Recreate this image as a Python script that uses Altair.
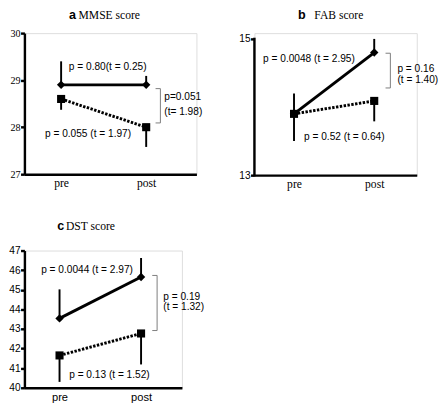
import altair as alt
import pandas as pd

categories = ["pre", "post"]

# Panel a: MMSE score
mmse_solid = [28.9, 28.9]
mmse_solid_err = [29.4, 29.09]
mmse_dotted = [28.6, 28.0]
mmse_dotted_err = [28.37, 27.58]
mmse_bracket = [28.82, 28.09]
mmse_ticks = [27, 28, 29, 30]

# Panel b: FAB score
fab_solid = [13.9, 14.8]
fab_solid_err = [14.2, 15.0]
fab_dotted = [13.9, 14.09]
fab_dotted_err = [13.5, 13.79]
fab_bracket = [14.79, 14.28]
fab_ticks = [13, 14, 15]

# Panel c: DST score
dst_solid = [43.54, 45.65]
dst_solid_err = [45.02, 46.62]
dst_dotted = [41.65, 42.77]
dst_dotted_err = [40.3, 41.19]
dst_bracket = [45.73, 42.92]
dst_ticks = [40, 41, 42, 43, 44, 45, 46, 47]

SANS = "Liberation Sans"
SERIF = "Liberation Serif"


def panel(letter, name, solid, solid_err, dotted, dotted_err, bracket, ticks,
          texts, width, height, xpad, xalign, yfont, xfont, xlfs,
          br_off, title_xy, ytop=None):
    df = pd.DataFrame({
        "cond": categories * 2,
        "series": ["solid"] * 2 + ["dotted"] * 2,
        "value": solid + dotted,
        "value2": solid_err + dotted_err,
    })
    top = ticks[-1] if ytop is None else ytop
    xenc = alt.X("cond:N", sort=categories,
                 scale=alt.Scale(type="point", domain=categories,
                                 padding=xpad, align=xalign),
                 axis=alt.Axis(title=None, ticks=False, labelAngle=0,
                               labelFont=xfont, labelFontSize=xlfs,
                               labelColor="black", labelPadding=4,
                               domainColor="black", domainWidth=2.5))
    yenc = alt.Y("value:Q",
                 scale=alt.Scale(domain=[ticks[0], top], nice=False, zero=False),
                 axis=alt.Axis(title=None, values=ticks, format="d", grid=False,
                               tickSize=4, tickWidth=2.5, tickColor="black",
                               labelFont=yfont, labelFontSize=10.5,
                               labelColor="black", labelPadding=0.5,
                               domain=ytop is None,
                               domainColor="black", domainWidth=2.5))
    base = alt.Chart(df)
    err = base.mark_rule(color="black", strokeWidth=2).encode(
        x=xenc, y=yenc, y2="value2:Q")
    line_s = base.transform_filter(alt.datum.series == "solid").mark_line(
        color="black", strokeWidth=3).encode(x=xenc, y=yenc)
    line_d = base.transform_filter(alt.datum.series == "dotted").mark_line(
        color="black", strokeWidth=3, strokeDash=[2.5, 1.5]).encode(x=xenc, y=yenc)
    pt_s = base.transform_filter(alt.datum.series == "solid").mark_point(
        shape="diamond", filled=True, color="black", size=75, opacity=1).encode(x=xenc, y=yenc)
    pt_d = base.transform_filter(alt.datum.series == "dotted").mark_point(
        shape="square", filled=True, color="black", size=70, opacity=1).encode(x=xenc, y=yenc)

    bdf = pd.DataFrame({"cond": ["post"], "value": [bracket[0]], "value2": [bracket[1]]})
    bcol = "#7a7a7a"
    br_v = alt.Chart(bdf).mark_rule(color=bcol, strokeWidth=1, xOffset=br_off).encode(
        x=xenc, y=yenc, y2="value2:Q")
    cdf = pd.DataFrame({"cond": ["post", "post"], "value": bracket})
    br_c = alt.Chart(cdf).mark_rule(color=bcol, strokeWidth=1,
                                    xOffset=br_off - 5, x2Offset=br_off).encode(
        x=xenc, x2="cond:N", y=yenc)

    layers = [err, line_d, line_s, pt_d, pt_s, br_v, br_c]
    if ytop is not None:
        ddf = pd.DataFrame({"value": [ticks[0]], "value2": [ticks[-1]]})
        layers.append(alt.Chart(ddf).mark_rule(color="black", strokeWidth=2.5,
                                               strokeCap="square").encode(
            x=alt.value(0), y=yenc, y2="value2:Q"))
    for cond, val, dx, label in texts:
        tdf = pd.DataFrame({"cond": [cond], "value": [val], "label": [label]})
        layers.append(alt.Chart(tdf).mark_text(
            align="left", baseline="middle", dx=dx, font=SANS, fontSize=10.5,
            color="black").encode(x=xenc, y=yenc, text="label:N"))

    one = pd.DataFrame({"k": [0]})
    tx, ty, tx2 = title_xy
    layers.append(alt.Chart(one).mark_text(
        text=letter, align="left", baseline="middle", font=SANS, fontSize=13,
        fontWeight="bold", color="black").encode(x=alt.value(tx), y=alt.value(ty)))
    layers.append(alt.Chart(one).mark_text(
        text=name, align="left", baseline="middle", font=SERIF, fontSize=12,
        color="black").encode(x=alt.value(tx2), y=alt.value(ty)))

    return alt.layer(*layers).properties(width=width, height=height)


pa = panel("a", "MMSE score", mmse_solid, mmse_solid_err, mmse_dotted, mmse_dotted_err,
           mmse_bracket, mmse_ticks,
           [("pre", 29.28, 8, "p = 0.80(t = 0.25)"),
            ("post", 28.63, 18.7, "p=0.051"),
            ("post", 28.32, 18.7, "(t= 1.98)"),
            ("pre", 27.85, -16.7, "p = 0.055 (t = 1.97)")],
           178, 146, 0.511, 0.422, SERIF, SERIF, 12, 14.7, (46, -19, 56))

pb = panel("b", "FAB score", fab_solid, fab_solid_err, fab_dotted, fab_dotted_err,
           fab_bracket, fab_ticks,
           [("pre", 14.7, -32, "p = 0.0048 (t = 2.95)"),
            ("post", 14.55, 24, "p = 0.16"),
            ("post", 14.39, 24, "(t = 1.40)"),
            ("pre", 13.56, 10.4, "p = 0.52 (t = 0.64)")],
           168, 147, 0.512, 0.482, SANS, SERIF, 12, 16.7, (45, -19, 62),
           ytop=15.085)

pc = panel("c", "DST score", dst_solid, dst_solid_err, dst_dotted, dst_dotted_err,
           dst_bracket, dst_ticks,
           [("pre", 46.01, -19, "p = 0.0044 (t = 2.97)"),
            ("post", 44.65, 23, "p = 0.19"),
            ("post", 44.12, 23, "(t = 1.32)"),
            ("pre", 40.66, 10, "p = 0.13 (t = 1.52)")],
           163, 142, 0.466, 0.462, SANS, SANS, 11.5, 16.6, (34, -25, 43))

chart = alt.concat(pa, pb, pc, columns=2, spacing={"row": 30, "column": 34},
                   align="none", bounds="full").properties(
    padding={"left": 0, "top": -7, "right": 0, "bottom": 0}
).configure_view(stroke=None).configure(background="white")

chart.save("out.html", embed_options={"renderer": "svg", "actions": False})
